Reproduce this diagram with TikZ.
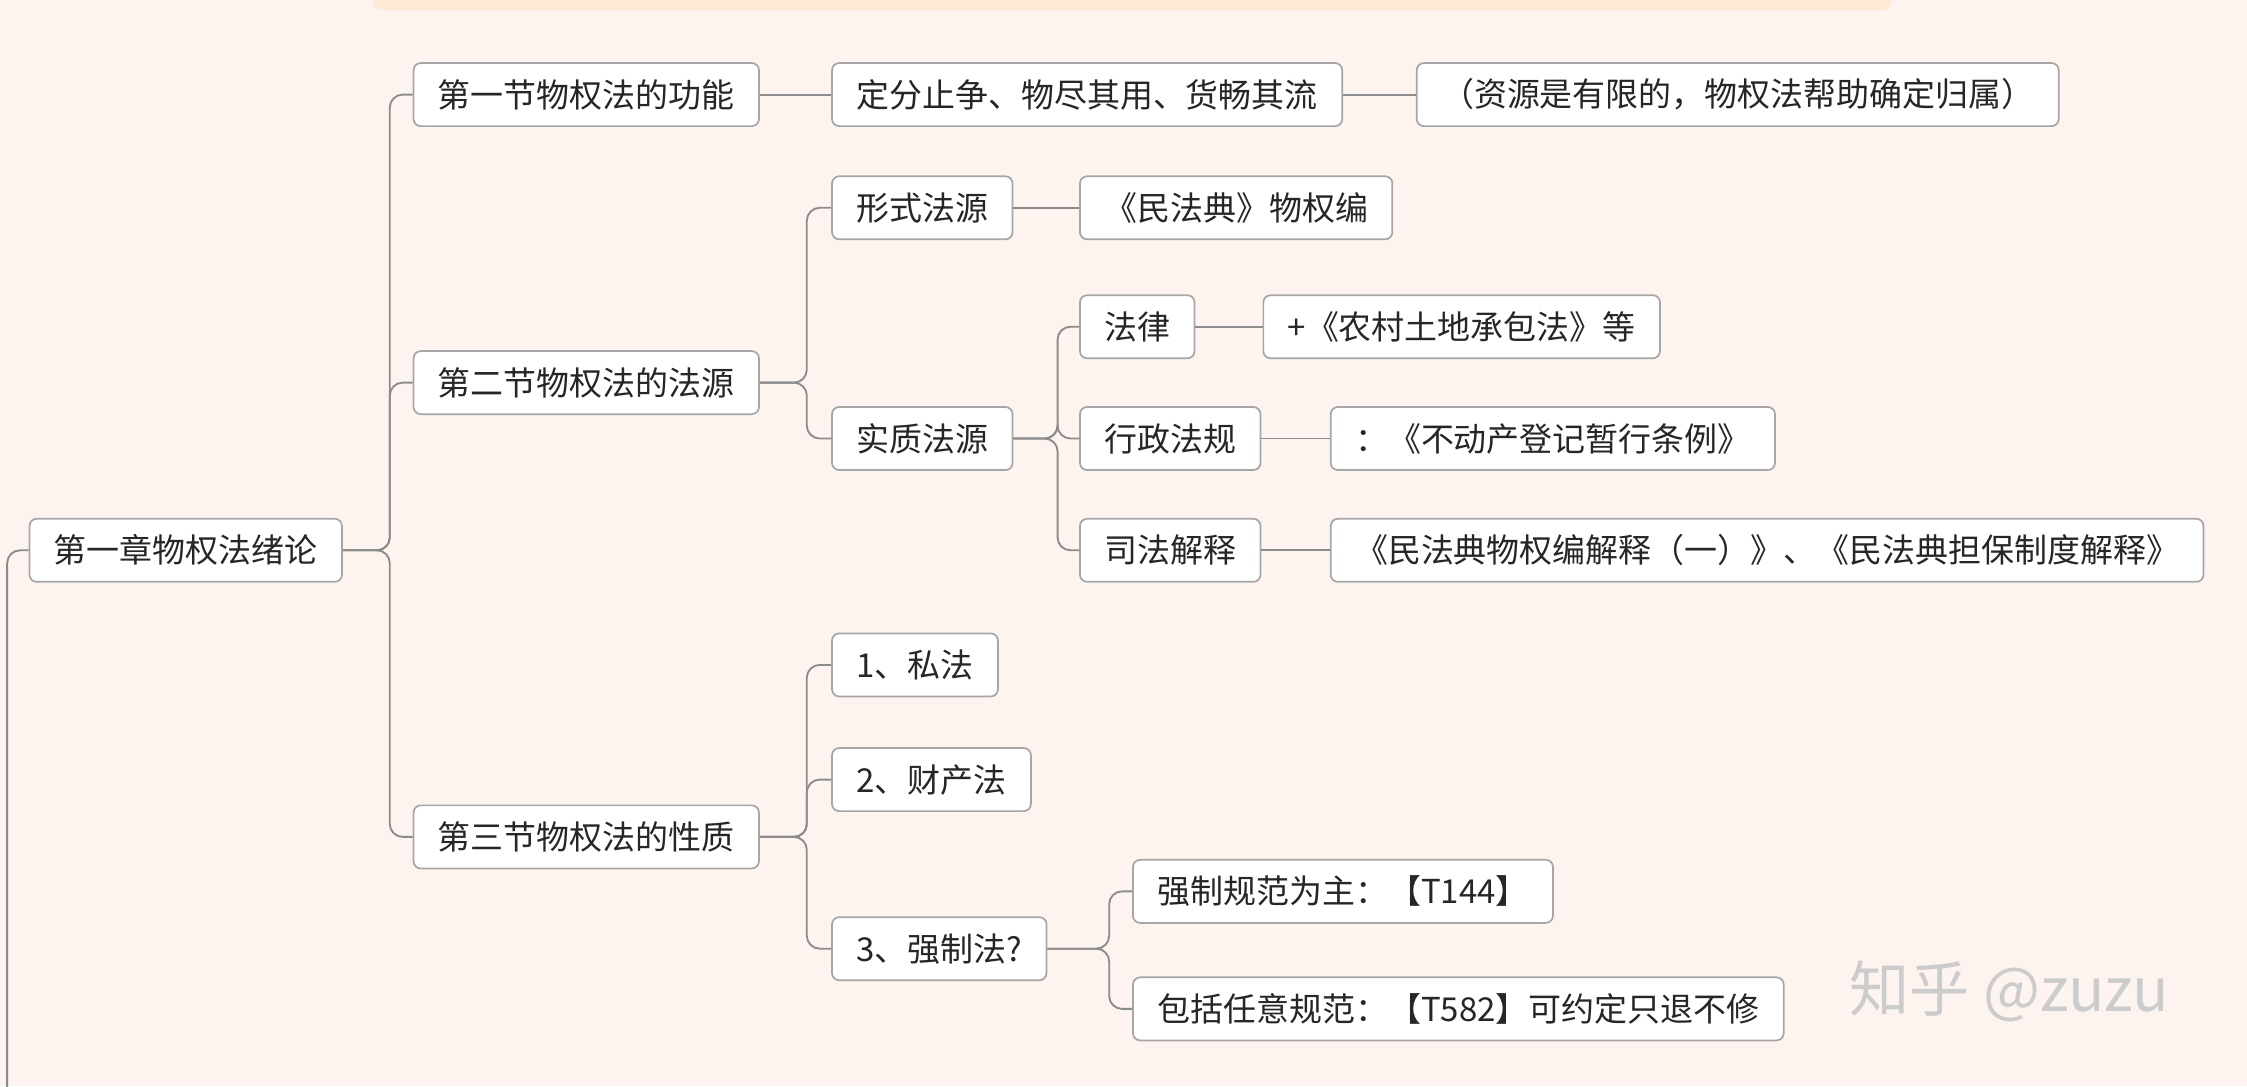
\documentclass[tikz,border=0pt]{standalone}
\usepackage{fontspec}
\setmainfont{Noto Sans CJK SC}
\definecolor{bg}{HTML}{FDF4EF}
\definecolor{band}{HTML}{FDE9D4}
\begin{document}
\begin{tikzpicture}[x=1pt,y=-1pt,
  box/.style={draw=black!35,line width=1.2pt,fill=white,rounded corners=5pt,minimum height=44pt,inner xsep=17pt,anchor=west,font=\fontsize{23}{26}\selectfont,text=black!85},
  ln/.style={draw=black!45,line width=1.3pt,rounded corners=9pt}]
\fill[bg] (0,0) rectangle (1568,758);
\useasboundingbox (0,0) rectangle (1568,758);
\fill[band,rounded corners=6pt] (260,-10) rectangle (1320,7);
\node[box] (r) at (20,384) {第一章物权法绪论};
\node[box] (a) at (288,66) {第一节物权法的功能};
\node[box] (b) at (288,267) {第二节物权法的法源};
\node[box] (c) at (288,584) {第三节物权法的性质};
\node[box] (a1) at (580,66) {定分止争、物尽其用、货畅其流};
\node[box] (a2) at (988,66) {（资源是有限的，物权法帮助确定归属）};
\node[box] (b1) at (580,145) {形式法源};
\node[box] (b11) at (753,145) {《民法典》物权编};
\node[box] (b2) at (580,306) {实质法源};
\node[box] (b21) at (753,228) {法律};
\node[box] (b211) at (881,228) {+《农村土地承包法》等};
\node[box] (b22) at (753,306) {行政法规};
\node[box] (b221) at (928,306) {：《不动产登记暂行条例》};
\node[box] (b23) at (753,384) {司法解释};
\node[box] (b231) at (928,384) {《民法典物权编解释（一）》、《民法典担保制度解释》};
\node[box] (c1) at (580,464) {1、私法};
\node[box] (c2) at (580,544) {2、财产法};
\node[box] (c3) at (580,662) {3、强制法?};
\node[box] (c31) at (790,622) {强制规范为主：【T144】};
\node[box] (c32) at (790,704) {包括任意规范：【T582】可约定只退不修};
\node[text=black!20,font=\fontsize{42}{46}\selectfont] (wm) at (1402,692) {知乎 @zuzu};
\draw[ln] (r.west) -| (5,770);
\foreach \p/\ch/\xb in {r/a/272,r/b/272,r/c/272,b/b1/563,b/b2/563,b2/b21/738,b2/b22/738,b2/b23/738,c/c1/563,c/c2/563,c/c3/563,c3/c31/774,c3/c32/774}
  \draw[ln] (\p.east) -- (\xb,0 |- \p.east) |- (\ch.west);
\draw[ln] (a.east) -- (a1.west);
\draw[ln] (a1.east) -- (a2.west);
\draw[ln] (b1.east) -- (b11.west);
\draw[ln] (b21.east) -- (b211.west);
\draw[ln] (b22.east) -- (b221.west);
\draw[ln] (b23.east) -- (b231.west);
\end{tikzpicture}
\end{document}
